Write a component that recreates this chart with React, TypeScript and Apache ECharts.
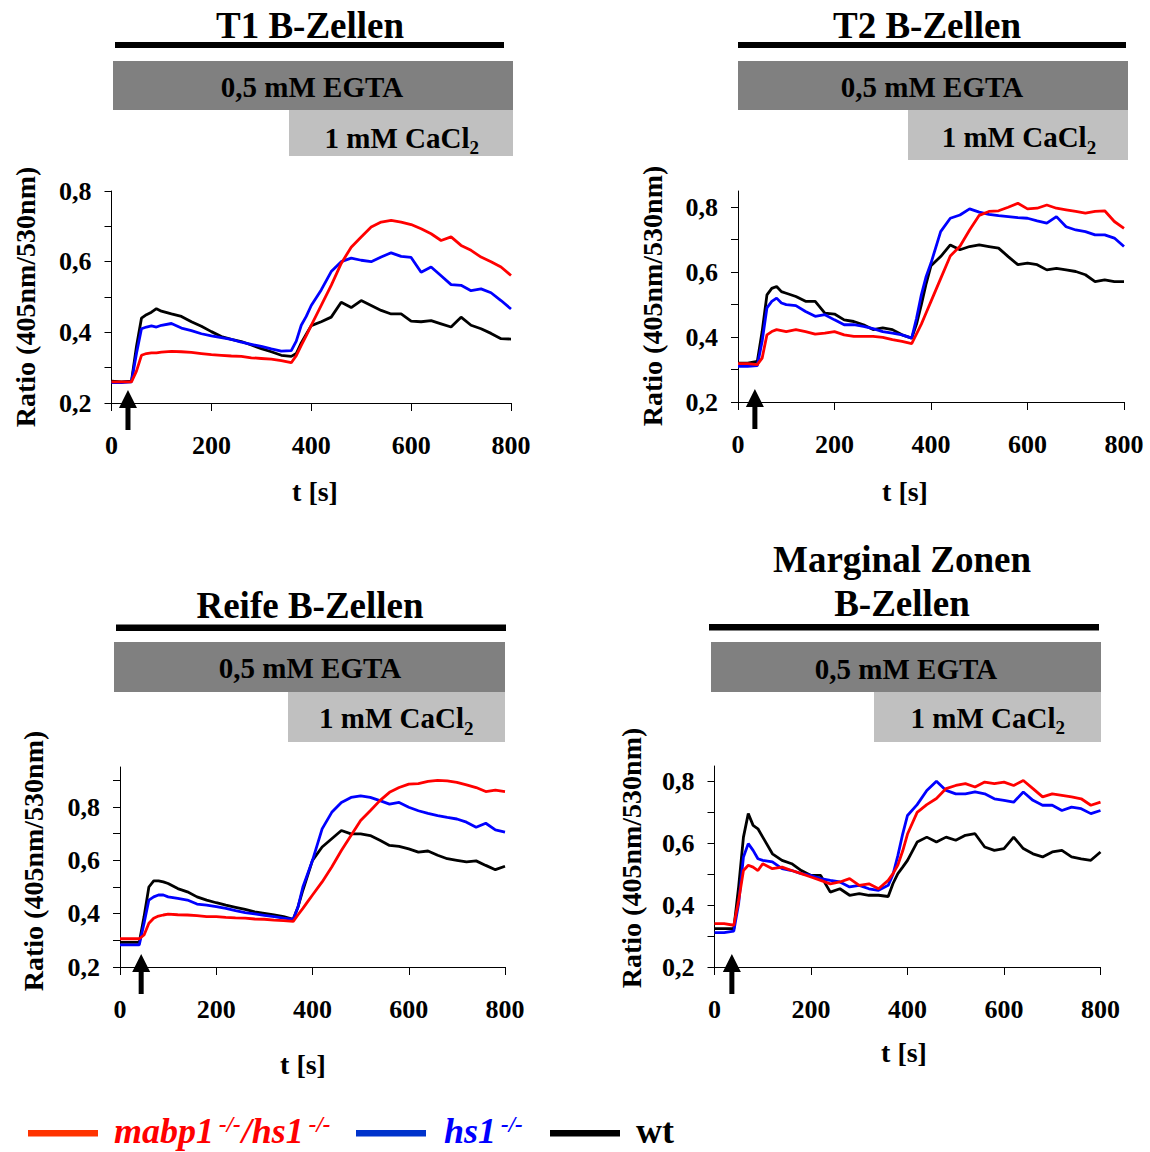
import React, { useEffect, useRef } from "react";
import * as echarts from "echarts";

const FONT = "'Liberation Serif', 'Times New Roman', serif";

// time grid (s)
const T = [0, 20, 40, 50, 60, 70, 80, 90, 100, 120, 140, 160, 180, 200, 220, 240, 260, 280, 300, 320, 340, 360, 370, 380, 390, 400, 420, 440, 460, 480, 500, 520, 540, 560, 580, 600, 620, 640, 660, 680, 700, 720, 740, 760, 780, 800];

// T1 B-Zellen
const T1_RED = [0.26, 0.26, 0.26, 0.29, 0.335, 0.34, 0.342, 0.342, 0.344, 0.346, 0.345, 0.343, 0.34, 0.337, 0.335, 0.333, 0.332, 0.328, 0.326, 0.324, 0.32, 0.314, 0.334, 0.363, 0.391, 0.42, 0.476, 0.533, 0.595, 0.641, 0.67, 0.698, 0.712, 0.717, 0.712, 0.705, 0.693, 0.679, 0.66, 0.67, 0.646, 0.632, 0.613, 0.6, 0.585, 0.561];
const T1_BLUE = [0.258, 0.258, 0.26, 0.34, 0.41, 0.415, 0.418, 0.415, 0.42, 0.425, 0.412, 0.405, 0.396, 0.39, 0.385, 0.38, 0.372, 0.366, 0.36, 0.353, 0.347, 0.348, 0.375, 0.42, 0.445, 0.476, 0.52, 0.572, 0.6, 0.61, 0.604, 0.6, 0.613, 0.625, 0.615, 0.612, 0.57, 0.585, 0.56, 0.535, 0.533, 0.518, 0.523, 0.512, 0.49, 0.466];
const T1_BLACK = [0.262, 0.26, 0.262, 0.36, 0.44, 0.45, 0.457, 0.467, 0.46, 0.452, 0.445, 0.43, 0.417, 0.402, 0.388, 0.38, 0.374, 0.364, 0.354, 0.345, 0.335, 0.332, 0.34, 0.37, 0.395, 0.419, 0.43, 0.443, 0.485, 0.47, 0.49, 0.476, 0.462, 0.452, 0.452, 0.432, 0.43, 0.433, 0.424, 0.415, 0.443, 0.42, 0.41, 0.397, 0.382, 0.381];

// T2 B-Zellen
const T2_RED = [0.318, 0.318, 0.315, 0.335, 0.407, 0.417, 0.423, 0.42, 0.417, 0.423, 0.417, 0.409, 0.412, 0.417, 0.407, 0.402, 0.402, 0.402, 0.399, 0.392, 0.387, 0.38, 0.41, 0.44, 0.475, 0.51, 0.58, 0.65, 0.68, 0.73, 0.775, 0.787, 0.789, 0.8, 0.812, 0.795, 0.797, 0.807, 0.797, 0.792, 0.787, 0.782, 0.787, 0.789, 0.756, 0.735];
const T2_BLUE = [0.31, 0.31, 0.312, 0.387, 0.49, 0.51, 0.52, 0.505, 0.5, 0.497, 0.479, 0.464, 0.469, 0.453, 0.438, 0.438, 0.433, 0.426, 0.417, 0.412, 0.407, 0.397, 0.458, 0.53, 0.587, 0.628, 0.725, 0.766, 0.776, 0.795, 0.785, 0.778, 0.774, 0.771, 0.768, 0.766, 0.758, 0.751, 0.771, 0.74, 0.73, 0.725, 0.715, 0.715, 0.705, 0.679];
const T2_BLACK = [0.32, 0.32, 0.325, 0.417, 0.53, 0.55, 0.556, 0.54, 0.535, 0.525, 0.51, 0.51, 0.474, 0.471, 0.453, 0.448, 0.438, 0.423, 0.428, 0.423, 0.407, 0.397, 0.44, 0.5, 0.565, 0.62, 0.648, 0.684, 0.669, 0.679, 0.684, 0.679, 0.674, 0.648, 0.623, 0.628, 0.623, 0.607, 0.612, 0.607, 0.602, 0.592, 0.571, 0.576, 0.571, 0.571];

// Reife B-Zellen
const R_RED = [0.306, 0.306, 0.306, 0.32, 0.364, 0.383, 0.391, 0.395, 0.398, 0.396, 0.395, 0.393, 0.389, 0.389, 0.386, 0.384, 0.383, 0.38, 0.379, 0.376, 0.374, 0.371, 0.396, 0.42, 0.445, 0.47, 0.519, 0.575, 0.637, 0.693, 0.749, 0.786, 0.824, 0.855, 0.873, 0.886, 0.888, 0.896, 0.9, 0.898, 0.892, 0.883, 0.873, 0.858, 0.863, 0.858];
const R_BLUE = [0.283, 0.283, 0.283, 0.364, 0.451, 0.463, 0.47, 0.47, 0.463, 0.457, 0.451, 0.436, 0.432, 0.426, 0.42, 0.411, 0.404, 0.399, 0.394, 0.389, 0.383, 0.379, 0.426, 0.5, 0.55, 0.6, 0.718, 0.78, 0.817, 0.836, 0.842, 0.836, 0.824, 0.811, 0.817, 0.799, 0.786, 0.776, 0.768, 0.761, 0.755, 0.743, 0.724, 0.739, 0.714, 0.706];
const R_BLACK = [0.292, 0.292, 0.292, 0.389, 0.5, 0.523, 0.523, 0.519, 0.513, 0.494, 0.482, 0.463, 0.451, 0.441, 0.432, 0.424, 0.416, 0.407, 0.401, 0.395, 0.389, 0.379, 0.426, 0.488, 0.544, 0.6, 0.65, 0.681, 0.712, 0.699, 0.699, 0.693, 0.675, 0.656, 0.652, 0.643, 0.631, 0.635, 0.619, 0.606, 0.6, 0.594, 0.598, 0.581, 0.565, 0.578];

// Marginal Zonen B-Zellen
const MZ_RED = [0.34, 0.34, 0.335, 0.415, 0.512, 0.529, 0.523, 0.512, 0.534, 0.518, 0.523, 0.512, 0.502, 0.491, 0.48, 0.469, 0.475, 0.486, 0.464, 0.469, 0.453, 0.48, 0.502, 0.53, 0.575, 0.63, 0.7, 0.725, 0.745, 0.777, 0.787, 0.793, 0.782, 0.798, 0.793, 0.798, 0.787, 0.803, 0.777, 0.75, 0.76, 0.755, 0.75, 0.744, 0.723, 0.733];
const MZ_BLUE = [0.311, 0.311, 0.316, 0.405, 0.556, 0.599, 0.577, 0.55, 0.545, 0.54, 0.518, 0.512, 0.502, 0.496, 0.486, 0.48, 0.475, 0.459, 0.464, 0.453, 0.448, 0.464, 0.5, 0.56, 0.63, 0.69, 0.725, 0.771, 0.801, 0.771, 0.76, 0.76, 0.766, 0.76, 0.744, 0.739, 0.733, 0.766, 0.739, 0.723, 0.723, 0.706, 0.717, 0.712, 0.696, 0.706];
const MZ_BLACK = [0.324, 0.324, 0.324, 0.459, 0.62, 0.696, 0.658, 0.647, 0.62, 0.566, 0.545, 0.534, 0.512, 0.496, 0.496, 0.442, 0.453, 0.432, 0.437, 0.432, 0.432, 0.428, 0.47, 0.502, 0.523, 0.545, 0.604, 0.62, 0.604, 0.62, 0.61, 0.626, 0.631, 0.588, 0.577, 0.583, 0.62, 0.583, 0.566, 0.556, 0.572, 0.577, 0.556, 0.55, 0.545, 0.572];

const PANEL_RED = [T1_RED, T2_RED, R_RED, MZ_RED];
const PANEL_BLUE = [T1_BLUE, T2_BLUE, R_BLUE, MZ_BLUE];
const PANEL_BLACK = [T1_BLACK, T2_BLACK, R_BLACK, MZ_BLACK];

const Y_MAX = [0.8, 0.85, 0.95, 0.85];
const Y_TICKS = [
  [0.2, 0.3, 0.4, 0.5, 0.6, 0.7, 0.8],
  [0.2, 0.3, 0.4, 0.5, 0.6, 0.7, 0.8],
  [0.2, 0.3, 0.4, 0.5, 0.6, 0.7, 0.8, 0.9],
  [0.2, 0.3, 0.4, 0.5, 0.6, 0.7, 0.8],
];
const Y_LABELS = [0.2, 0.4, 0.6, 0.8];
const ARROW_T = [33, 35, 44, 36];

const NAME_RED = "mabp1-/-/hs1-/-";
const NAME_BLUE = "hs1-/-";
const NAME_WT = "wt";

const TITLES = [["T1 B-Zellen"], ["T2 B-Zellen"], ["Reife B-Zellen"], ["Marginal Zonen", "B-Zellen"]];

// layout (pixels)
const GRIDS = [
  { left: 111.5, top: 191, width: 399.5, height: 212 },
  { left: 738, top: 191, width: 386, height: 211 },
  { left: 120, top: 767, width: 385, height: 200 },
  { left: 714.5, top: 766, width: 386, height: 201 },
];
const TITLE_POS = [[[310, 25]], [[927, 25]], [[310, 605]], [[902, 559], [902, 603]]];
const BLACKBAR = [[115, 42, 389, 6], [738, 42, 388, 6], [116, 624.5, 390, 6.5], [709, 624, 390, 6.5]];
const DARKBAR = [[113, 61, 400, 49], [738, 61, 390, 49], [114, 642, 391, 50], [711, 642, 390, 50]];
const LIGHTBAR = [[289, 110, 224, 46], [908, 110, 220, 50], [288, 692, 217, 50], [874, 692, 227, 50]];
const EGTA_POS = [[312, 87], [932, 87], [310, 668], [906, 669]];
const CACL_POS = [[324.5, 140], [941.7, 139.5], [319, 720.5], [910.5, 720]];
const YNAME_POS = [[25, 297], [652, 296], [33, 861], [631, 858]];
const XNAME_POS = [[315, 491], [905, 491], [303, 1064], [904, 1052]];

const ARROW_PATH = "path://M9,0 L18,18 L11.5,18 L11.5,40 L6.5,40 L6.5,18 L0,18 Z";

export default function App() {
  const ref = useRef<HTMLDivElement>(null);
  useEffect(() => {
    if (!ref.current) return;
    const chart = echarts.init(ref.current, undefined, { renderer: "svg" });

    const boldText = { fontFamily: FONT, fontWeight: "bold" as const, color: "#000" };

    const grid = GRIDS.map((g) => ({ ...g, containLabel: false, outerBoundsMode: "none" }));
    const xAxis = GRIDS.map((_, i) => ({
      type: "value",
      gridIndex: i,
      min: 0,
      max: 800,
      interval: 200,
      axisLine: { show: true, onZero: false, lineStyle: { color: "#000", width: 1 } },
      axisTick: { show: true, inside: false, length: 8, lineStyle: { color: "#000", width: 1 } },
      axisLabel: { ...boldText, fontSize: 26, margin: 29 },
      splitLine: { show: false },
    }));
    const yAxis = GRIDS.map((_, i) => ({
      type: "value",
      gridIndex: i,
      min: 0.2,
      max: Y_MAX[i],
      axisLine: { show: true, onZero: false, lineStyle: { color: "#000", width: 1 } },
      axisTick: { show: true, inside: false, length: 7, customValues: Y_TICKS[i], lineStyle: { color: "#000", width: 1 } },
      axisLabel: {
        ...boldText,
        fontSize: 26,
        margin: 20,
        customValues: Y_LABELS,
        formatter: (v: number) => v.toFixed(1).replace(".", ","),
      },
      splitLine: { show: false },
    }));

    const series: any[] = [];
    for (let i = 0; i < 4; i++) {
      const defs: [string, number[], string][] = [
        [NAME_WT, PANEL_BLACK[i], "#000000"],
        [NAME_BLUE, PANEL_BLUE[i], "#0000ff"],
        [NAME_RED, PANEL_RED[i], "#ff0000"],
      ];
      defs.forEach(([name, vals, col]) => {
        const s: any = {
          type: "line",
          name,
          xAxisIndex: i,
          yAxisIndex: i,
          showSymbol: false,
          symbol: "none",
          data: T.map((t, k) => [t, vals[k]]),
          lineStyle: { color: col, width: 2.8 },
          itemStyle: { color: col },
          silent: true,
        };
        if (name === NAME_WT) {
          s.markPoint = {
            silent: true,
            symbol: ARROW_PATH,
            symbolSize: [18, 40],
            symbolOffset: [0, 7],
            itemStyle: { color: "#000" },
            label: { show: false },
            data: [{ coord: [ARROW_T[i], 0.2] }],
          };
        }
        series.push(s);
      });
    }

    const graphic: any[] = [];
    for (let i = 0; i < 4; i++) {
      TITLES[i].forEach((txt, j) => {
        graphic.push({
          type: "text",
          x: TITLE_POS[i][j][0],
          y: TITLE_POS[i][j][1],
          style: { text: txt, ...boldText, fill: "#000", fontSize: 37, align: "center", verticalAlign: "middle" },
        });
      });
      const b = BLACKBAR[i];
      graphic.push({ type: "rect", shape: { x: b[0], y: b[1], width: b[2], height: b[3] }, style: { fill: "#000" } });
      const d = DARKBAR[i];
      graphic.push({ type: "rect", shape: { x: d[0], y: d[1], width: d[2], height: d[3] }, style: { fill: "#808080" } });
      const l = LIGHTBAR[i];
      graphic.push({ type: "rect", shape: { x: l[0], y: l[1], width: l[2], height: l[3] }, style: { fill: "#c0c0c0" } });
      graphic.push({
        type: "text",
        x: EGTA_POS[i][0],
        y: EGTA_POS[i][1],
        style: { text: "0,5 mM EGTA", ...boldText, fill: "#000", fontSize: 29, align: "center", verticalAlign: "middle" },
      });
      graphic.push({
        type: "text",
        x: CACL_POS[i][0],
        y: CACL_POS[i][1],
        style: {
          text: "{a|1 mM CaCl}{s|2}",
          align: "left",
          verticalAlign: "middle",
          rich: {
            a: { fontFamily: FONT, fontWeight: "bold", fontSize: 29, lineHeight: 34, verticalAlign: "top", fill: "#000", color: "#000" },
            s: { fontFamily: FONT, fontWeight: "bold", fontSize: 19, lineHeight: 19, verticalAlign: "bottom", fill: "#000", color: "#000" },
          },
        },
      });
      graphic.push({
        type: "text",
        x: YNAME_POS[i][0],
        y: YNAME_POS[i][1],
        rotation: Math.PI / 2,
        style: { text: "Ratio (405nm/530nm)", ...boldText, fill: "#000", fontSize: 28, align: "center", verticalAlign: "middle" },
      });
      graphic.push({
        type: "text",
        x: XNAME_POS[i][0],
        y: XNAME_POS[i][1],
        style: { text: "t [s]", ...boldText, fill: "#000", fontSize: 28, align: "center", verticalAlign: "middle" },
      });
    }

    // legend
    const LEG_Y = 1133;
    const legendItems: [number, number, string, string, string][] = [
      [28, 114, "#ff3300", "#ff0000", "{m|mabp1}{p|-/-}{m|/hs1}{p|-/-}"],
      [356, 444, "#0033cc", "#0000ff", "{m|hs1}{p|-/-}"],
      [550, 636, "#000000", "#000000", "{n|wt}"],
    ];
    legendItems.forEach(([lx, tx, lineCol, txtCol, rt]) => {
      graphic.push({ type: "rect", shape: { x: lx, y: LEG_Y - 3, width: 70, height: 6.5 }, style: { fill: lineCol } });
      graphic.push({
        type: "text",
        x: tx,
        y: LEG_Y + 2.5,
        style: {
          text: rt,
          align: "left",
          verticalAlign: "middle",
          rich: {
            m: { fontFamily: FONT, fontWeight: "bold", fontStyle: "italic", fontSize: 36, lineHeight: 46, verticalAlign: "top", fill: txtCol },
            p: { fontFamily: FONT, fontWeight: "bold", fontStyle: "italic", fontSize: 23, lineHeight: 23, verticalAlign: "top", fill: txtCol, padding: [0, 1, 0, 5] },
            n: { fontFamily: FONT, fontWeight: "bold", fontSize: 36, lineHeight: 46, verticalAlign: "top", fill: txtCol },
          },
        },
      });
    });

    chart.setOption({
      animation: false,
      backgroundColor: "#ffffff",
      textStyle: { fontFamily: FONT },
      grid,
      xAxis,
      yAxis,
      series,
      graphic,
    });

    return () => chart.dispose();
  }, []);

  return (
    <div
      ref={ref}
      style={{ position: "absolute", left: 0, top: 0, width: 1150, height: 1152, background: "#fff" }}
    />
  );
}
